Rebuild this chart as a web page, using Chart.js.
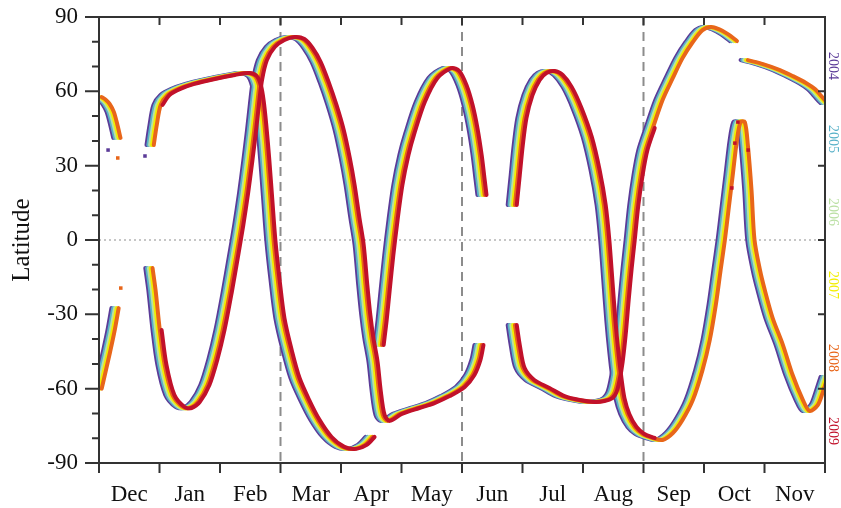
<!DOCTYPE html>
<html>
<head>
<meta charset="utf-8">
<script src="https://cdn.jsdelivr.net/npm/chart.js@4.4.1/dist/chart.umd.min.js"></script>
<style>html,body{margin:0;padding:0;background:#fff}</style>
</head>
<body>
<canvas id="lat-chart" width="841" height="508"></canvas>
<script>
const months = ['Dec', 'Jan', 'Feb', 'Mar', 'Apr', 'May', 'Jun', 'Jul', 'Aug', 'Sep', 'Oct', 'Nov'];
const latTicks = [-90, -60, -30, 0, 30, 60, 90];
const seasonMarks = [3, 6, 9];

const years = ['2004', '2005', '2006', '2007', '2008', '2009'];
const yearColors = ['#5b3b98', '#58b1c8', '#bbe0a4', '#f2ee00', '#e8661a', '#c1112a'];
// lag of each year's band, in months (purple earliest, red latest)
const yearLag = [-0.075, -0.045, -0.015, 0.015, 0.045, 0.075];
// months covered by each year
const yearFrom = [-1, -1, -1, -1, -1, 0.95];
const yearTo = [13, 13, 13, 13, 13, 9.15];

// [month since Dec 1, latitude]
const decUpper = [[0, 57.7], [0.07, 56.5], [0.13, 54.9], [0.2, 51.7], [0.26, 46.4], [0.31, 41.2]];
const decLower = [[0, -60], [0.07, -52.5], [0.14, -45], [0.21, -37], [0.28, -27.5]];
const janUpper = [
  [0.86, 38.3], [0.91, 46.4], [0.975, 54.5], [1.09, 58.5], [1.26, 60.9], [1.5, 63], [1.84, 65],
  [2.17, 66.6], [2.41, 67.4], [2.53, 66.2], [2.6, 62.5], [2.645, 56.5], [2.69, 46.4], [2.74, 32.3],
  [2.79, 16.1], [2.84, 0], [2.91, -16.1], [2.99, -31.5], [3.11, -44.4], [3.24, -55.7], [3.4, -64.6],
  [3.57, -72.6], [3.77, -79.5], [3.98, -83.5], [4.18, -84.3], [4.35, -82.7], [4.48, -79.5]
];
const janLower = [
  [0.84, -11.3], [0.89, -20.2], [0.96, -36.3], [1.04, -50.4], [1.17, -62.5], [1.34, -67.4],
  [1.455, -67.8], [1.59, -65.4], [1.75, -58.5], [1.88, -48.4], [2, -36.3], [2.12, -21],
  [2.22, -7], [2.31, 6], [2.39, 19], [2.46, 32], [2.52, 44], [2.57, 55], [2.62, 64.6],
  [2.7, 72.6], [2.83, 77.9], [2.99, 80.7], [3.16, 81.9], [3.32, 81.1], [3.455, 77.5], [3.59, 71.8],
  [3.72, 63.8], [3.85, 54.5], [3.97, 44.4], [4.07, 33.1], [4.15, 22.2], [4.23, 8.9], [4.3, -2],
  [4.36, -18.2], [4.41, -30.3], [4.46, -39.5], [4.53, -49.2], [4.58, -60.5], [4.645, -70.6],
  [4.73, -73], [4.93, -70.2], [5.22, -67.8], [5.47, -65.8], [5.72, -63], [5.97, -59.3],
  [6.13, -54.5], [6.23, -48.4], [6.28, -42.4]
];
const aprRise = [
  [4.63, -42.4], [4.68, -32.3], [4.73, -20.2], [4.79, -6.1], [4.86, 8.1], [4.94, 22.2],
  [5.04, 34.3], [5.14, 43.2], [5.31, 55.7], [5.52, 65.4], [5.75, 69.4], [5.88, 68.2],
  [6, 62.5], [6.1, 54.5], [6.18, 45.2], [6.25, 34.3], [6.3, 24.2], [6.33, 18.2]
];
const julUpper = [
  [6.83, 14.1], [6.88, 26.2], [6.93, 38.3], [6.99, 49.2], [7.09, 58.5], [7.21, 64.6], [7.32, 67.4],
  [7.455, 68.2], [7.59, 66.6], [7.74, 61.7], [7.9, 53.3], [8.07, 41.6], [8.2, 28.2], [8.3, 14.1],
  [8.36, 0], [8.41, -16.1], [8.46, -32.3], [8.51, -45.2], [8.56, -55.7], [8.61, -63.8],
  [8.69, -70.2], [8.81, -75.5], [8.94, -78.3], [9.11, -79.9], [9.27, -80.7], [9.44, -77.9],
  [9.6, -72.6], [9.77, -64.6], [9.93, -52.5], [10.05, -40.4], [10.15, -26.2], [10.23, -12.1],
  [10.3, 0], [10.36, 12.1], [10.43, 26.2], [10.5, 40.4], [10.56, 47.6], [10.63, 47.6],
  [10.68, 38.3], [10.74, 20.2], [10.79, 0], [10.88, -12.1], [10.96, -20.2], [11.09, -31.5],
  [11.26, -42.4], [11.42, -54.5], [11.59, -64.6], [11.7, -69], [11.835, -66.6], [11.92, -61.3],
  [12, -55.3]
];
const julLower = [
  [6.83, -34.3], [6.88, -42.4], [6.96, -51.7], [7.12, -56.5], [7.37, -59.7], [7.62, -63],
  [7.87, -64.6], [8.12, -65.4], [8.28, -65], [8.41, -63.8], [8.48, -61.3], [8.53, -56.5],
  [8.58, -49.2], [8.63, -38.3], [8.68, -24.2], [8.73, -11.3], [8.78, 0], [8.84, 14.1],
  [8.91, 26.2], [8.99, 36.3], [9.11, 45.2], [9.27, 56.5], [9.44, 65.4], [9.6, 73.4],
  [9.77, 79.9], [9.93, 84.7], [10.07, 86], [10.2, 85.1], [10.35, 83.1], [10.5, 80.3]
];
const octUpper = [
  [10.68, 72.6], [10.93, 71], [11.21, 68.6], [11.42, 66.2], [11.64, 63.4], [11.79, 60.9],
  [11.88, 58.5], [11.95, 56.5], [12, 55.3]
];
const segments = [decUpper, decLower, janUpper, janLower, aprRise, julUpper, julLower, octUpper];

// isolated points: month, latitude, year index
const strayMonth = [0.15, 0.31, 0.76, 0.36, 10.56, 10.73, 10.51, 10.46];
const strayLat = [36.3, 33.1, 33.9, -19.4, 47.6, 36.3, 39.1, 21.0];
const strayYear = [0, 4, 0, 4, 5, 5, 5, 5];

const FONT = '"Liberation Serif", "Times New Roman", serif';

const datasets = [];
years.forEach((yr, i) => {
  segments.forEach(seg => {
    const pts = seg
      .filter(p => p[0] >= yearFrom[i] && p[0] <= yearTo[i])
      .map(p => ({x: p[0] + yearLag[i], y: p[1]}));
    if (pts.length < 2) return;
    datasets.push({
      label: yr,
      data: pts,
      showLine: true,
      borderColor: yearColors[i],
      borderWidth: 4,
      borderCapStyle: 'round',
      borderJoinStyle: 'round',
      pointRadius: 0,
      tension: 0.3,
      order: years.length - i,
      clip: 0
    });
  });
});
datasets.push({
  label: 'stray',
  data: strayMonth.map((m, k) => ({x: m, y: strayLat[k]})),
  pointStyle: 'rect',
  pointRadius: 2.5,
  pointBorderWidth: 0,
  pointBackgroundColor: strayYear.map(k => yearColors[k]),
  order: 0
});

const frame = {
  id: 'frame',
  beforeDatasetsDraw(chart) {
    const {ctx, chartArea: a, scales: {x, y}} = chart;
    ctx.save();
    const y0 = y.getPixelForValue(0);
    ctx.strokeStyle = '#b4b4b4';
    ctx.lineWidth = 1.5;
    ctx.setLineDash([2, 3]);
    ctx.beginPath(); ctx.moveTo(a.left, y0); ctx.lineTo(a.right, y0); ctx.stroke();
    ctx.strokeStyle = '#8c8c8c';
    ctx.lineWidth = 2;
    ctx.setLineDash([9, 6]);
    seasonMarks.forEach(m => {
      const px = x.getPixelForValue(m);
      ctx.beginPath(); ctx.moveTo(px, a.top); ctx.lineTo(px, a.bottom); ctx.stroke();
    });
    ctx.restore();
  },
  afterDatasetsDraw(chart) {
    const {ctx, chartArea: a, scales: {x, y}} = chart;
    ctx.save();
    ctx.strokeStyle = '#333';
    ctx.lineWidth = 2;
    ctx.strokeRect(a.left, a.top, a.right - a.left, a.bottom - a.top);
    ctx.beginPath();
    for (let v = -90; v <= 90; v += 10) {
      const py = y.getPixelForValue(v);
      const major = v % 30 === 0;
      ctx.moveTo(a.left - (major ? 14 : 7), py); ctx.lineTo(a.left, py);
      if (major && v > -90 && v < 90) { ctx.moveTo(a.right - 7, py); ctx.lineTo(a.right, py); }
    }
    for (let m = 0; m <= months.length; m++) {
      const px = x.getPixelForValue(m);
      ctx.moveTo(px, a.bottom); ctx.lineTo(px, a.bottom + 10);
      if (m > 0 && m < months.length) { ctx.moveTo(px, a.top); ctx.lineTo(px, a.top + 8); }
    }
    ctx.stroke();

    ctx.font = '14px ' + FONT;
    ctx.textAlign = 'center';
    ctx.textBaseline = 'middle';
    years.forEach((yr, i) => {
      ctx.save();
      ctx.translate(a.right + 8, a.top + 49 + i * 73);
      ctx.rotate(Math.PI / 2);
      ctx.fillStyle = yearColors[i];
      ctx.fillText(yr, 0, 0);
      ctx.restore();
    });
    ctx.restore();
  }
};

new Chart(document.getElementById('lat-chart').getContext('2d'), {
  type: 'scatter',
  data: {datasets},
  options: {
    responsive: false,
    animation: false,
    events: [],
    layout: {padding: {left: 0, right: 16, top: 17, bottom: 0}},
    plugins: {legend: {display: false}, tooltip: {enabled: false}},
    scales: {
      x: {
        type: 'linear',
        min: 0,
        max: 12,
        afterFit(s) { s.height = 45; s.paddingLeft = 0; s.paddingRight = 0; },
        grid: {display: false, drawTicks: false},
        border: {display: false},
        ticks: {
          stepSize: 1,
          autoSkip: false,
          maxRotation: 0,
          labelOffset: 30.25,
          padding: 18,
          color: '#111',
          font: {family: FONT, size: 23},
          callback: v => months[v] || ''
        }
      },
      y: {
        min: -90,
        max: 90,
        afterFit(s) { s.width = 99; s.paddingTop = 0; s.paddingBottom = 0; },
        afterBuildTicks(s) { s.ticks = latTicks.map(v => ({value: v})); },
        grid: {display: false, drawTicks: false},
        border: {display: false},
        ticks: {padding: 21, color: '#111', font: {family: FONT, size: 23}},
        title: {
          display: true,
          text: 'Latitude',
          color: '#111',
          font: {family: FONT, size: 25},
          padding: {top: 7, bottom: 0}
        }
      }
    }
  },
  plugins: [frame]
});
</script>
</body>
</html>
